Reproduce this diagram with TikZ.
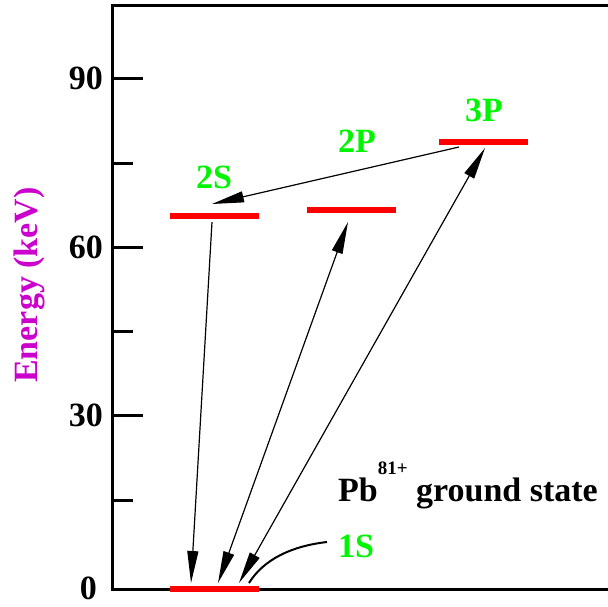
\documentclass[tikz,border=0pt]{standalone}
\usepackage{fontspec}
\setmainfont{Liberation Serif}
\usetikzlibrary{arrows.meta}
\definecolor{lvlred}{RGB}{255,0,0}
\definecolor{lblgreen}{RGB}{0,245,0}
\definecolor{axmag}{RGB}{204,0,204}
\begin{document}
\begin{tikzpicture}[x=1pt,y=-1pt,
  big/.style={font=\fontsize{34}{40}\selectfont\bfseries, inner sep=0pt},
  lvl/.style={fill=lvlred, draw=none, minimum width=89pt, minimum height=6pt, inner sep=0pt},
  lbl/.style={big, text=lblgreen},
  conn/.style={line width=1.2pt},
  onetip/.style={-{Triangle[length=32pt,width=11pt]}},
  twotip/.style={{Triangle[length=32pt,width=11pt]}-{Triangle[length=32pt,width=11pt]}},
  axis/.style={line width=3pt}]
\useasboundingbox (0,0) rectangle (608,606);
% frame
\draw[axis] (608,5) -- (112,5) -- (112,589) -- (608,589);
\foreach \yy in {78,247,415} \draw[axis] (112,\yy) -- (143,\yy);
\foreach \yy in {163,331,500} \draw[axis] (112,\yy) -- (133,\yy);
% tick labels
\node[big, anchor=east] (t90) at (103,78) {90};
\node[big, anchor=east] (t60) at (103,247) {60};
\node[big, anchor=east] (t30) at (103,415) {30};
\node[big, anchor=east] (t0) at (97,588) {0};
% axis title
\node[big, text=axmag, rotate=90] (ytitle) at (29,285) {Energy (keV)};
% levels
\node[lvl] (s1) at (214.5,589) {};
\node[lvl] (s2) at (214.5,215.5) {};
\node[lvl] (p2) at (351.5,210) {};
\node[lvl] (p3) at (483,141.5) {};
% level labels
\node[lbl] (l2s) at (214,177) {2S};
\node[lbl] (l2p) at (357,141) {2P};
\node[lbl] (l3p) at (484,110) {3P};
\node[lbl] (l1s) at (356,546) {1S};
\node[big, anchor=base west] (pb) at (338,501) {Pb\raisebox{27pt}{\fontsize{19}{19}\selectfont 81+} ground state};
% connector end points
\coordinate (a1s) at (459,147);
\coordinate (a1e) at (212,204);
\coordinate (a2s) at (212,222);
\coordinate (a2e) at (191,583);
\coordinate (a3s) at (218,583);
\coordinate (a3e) at (348,222);
\coordinate (a4s) at (239,583);
\coordinate (a4e) at (485,148);
\coordinate (cs) at (327,542);
\coordinate (ce) at (249,583);
% transitions
\draw[conn, onetip] (a1s) -- (a1e);
\draw[conn, onetip] (a2s) -- (a2e);
\draw[conn, twotip] (a3s) -- (a3e);
\draw[conn, twotip] (a4s) -- (a4e);
\draw[line width=2pt] (cs) .. controls (292,546) and (264,559) .. (ce);
\end{tikzpicture}
\end{document}
